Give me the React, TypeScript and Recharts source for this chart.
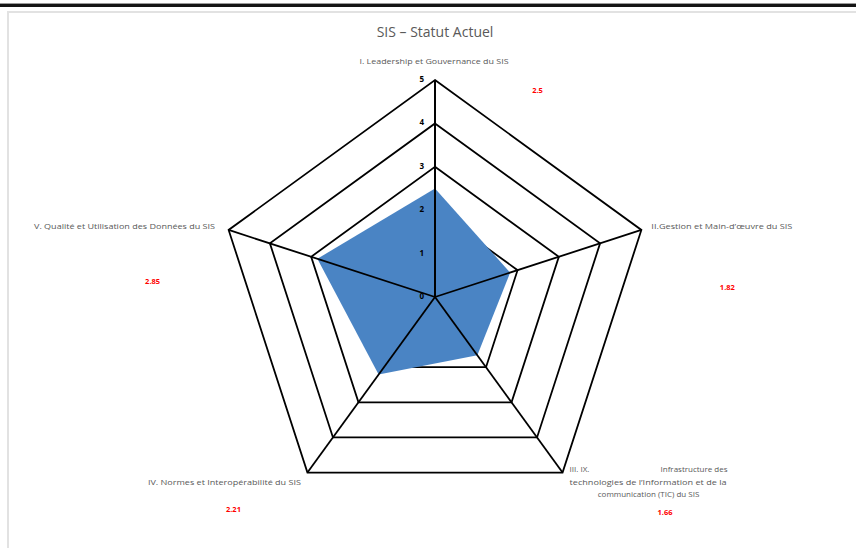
import React from 'react';
import { RadarChart, Radar, PolarGrid, PolarAngleAxis, PolarRadiusAxis } from 'recharts';

// Domain names, in clockwise order starting at the top
const categories = [
  'I. Leadership et Gouvernance du SIS',
  'II.Gestion et Main-d\u2019œuvre du SIS',
  'III. IX. Infrastructure des technologies de l\u2019Information et de la communication (TIC) du SIS',
  'IV. Normes et Interopérabilité du SIS',
  'V. Qualité et Utilisation des Données du SIS',
];

// Current score per domain
const statutActuel = [2.5, 1.82, 1.66, 2.21, 2.85];

// Radial scale
const radiusTicks = [0, 1, 2, 3, 4, 5];

// Wrapped label lines; a tab splits a line into left and right parts
const labelLines: string[][] = [
  ['I. Leadership et Gouvernance du SIS'],
  ['II.Gestion et Main-d\u2019œuvre du SIS'],
  ['III. IX.\tInfrastructure des', 'technologies de l\u2019Information et de la', 'communication (TIC) du SIS'],
  ['IV. Normes et Interopérabilité du SIS'],
  ['V. Qualité et Utilisation des Données du SIS'],
];

const chartTitle = 'SIS \u2013 Statut Actuel';

const data = categories.map((axe, i) => ({ axe, value: statutActuel[i] }));

const W = 856;
const H = 548;
const CX = 435;
const CY = 297;
const R = 217;
const RAD = Math.PI / 180;

const TEXT_GREY = '#595959';
const FONT = '"Open Sans", "Liberation Sans", sans-serif';
const GRID_W = 1.8;

// Placement of each axis label and value note, relative to the outer vertex
const LABEL_LAYOUT = [
  { anchor: 'middle', dx: -1, dys: [-19.5], width: 149, valDx: 102.5, valDy: 10 },
  { anchor: 'start', dx: 10, dys: [-4], width: 141, valDx: 86, valDy: 57 },
  { anchor: 'start', dx: 7, dys: [-4, 9.2, 20.8], width: 158, valDx: 102.5, valDy: 39 },
  { anchor: 'end', dx: -6.5, dys: [9], width: 153, valDx: -74, valDy: 36 },
  { anchor: 'end', dx: -13.6, dys: [-4], width: 181, valDx: -76, valDy: 51 },
];

function Label(props: any) {
  const { children, ...rest } = props;
  return (
    <text
      dominantBaseline="central"
      fontFamily={FONT}
      fontSize={8}
      fill={TEXT_GREY}
      stroke="none"
      {...rest}
    >
      {children}
    </text>
  );
}

// Angle-axis tick: the spoke from the centre, the domain label and its score note
function AngleTick(props: any) {
  const { payload } = props;
  const i = categories.indexOf(payload.value);
  if (i < 0) return null;
  const angle = payload.coordinate as number;
  const vx = CX + R * Math.cos(angle * RAD);
  const vy = CY - R * Math.sin(angle * RAD);
  const lay = LABEL_LAYOUT[i];
  const lines = labelLines[i];
  const x0 = vx + lay.dx;

  return (
    <g>
      <line x1={CX} y1={CY} x2={vx} y2={vy} stroke="#000" strokeWidth={GRID_W} />
      {lines.map((line, li) => {
        const y = vy + lay.dys[li];
        if (line.includes('\t')) {
          const [left, right] = line.split('\t');
          return (
            <g key={li}>
              <Label x={x0} y={y} textAnchor="start">{left}</Label>
              <Label x={x0 + lay.width} y={y} textAnchor="end">{right}</Label>
            </g>
          );
        }
        if (lines.length > 1) {
          const isFull = li === 1;
          return (
            <Label
              key={li}
              x={isFull ? x0 : x0 + lay.width / 2}
              y={y}
              textAnchor={isFull ? 'start' : 'middle'}
              textLength={isFull ? lay.width - 1 : undefined}
              lengthAdjust="spacingAndGlyphs"
            >
              {line}
            </Label>
          );
        }
        return (
          <Label
            key={li}
            x={x0}
            y={y}
            textAnchor={lay.anchor}
            textLength={lay.width}
            lengthAdjust="spacingAndGlyphs"
          >
            {line}
          </Label>
        );
      })}
      <text
        x={vx + lay.valDx}
        y={vy + lay.valDy}
        textAnchor="middle"
        dominantBaseline="central"
        fontFamily={FONT}
        fontSize={7.5}
        fontWeight={700}
        fill="#FF0000"
        stroke="none"
      >
        {statutActuel[i]}
      </text>
    </g>
  );
}

function RadiusTick(props: any) {
  const { x, y, payload } = props;
  return (
    <text
      x={x - 11}
      y={y - 1.5}
      textAnchor="end"
      dominantBaseline="central"
      fontFamily={FONT}
      fontSize={8}
      fontWeight={700}
      fill="#000"
      stroke="none"
    >
      {payload.value}
    </text>
  );
}

export default function App() {
  return (
    <div style={{ position: 'absolute', left: 0, top: 0, width: W, height: H, background: '#fff', overflow: 'hidden' }}>
      {/* page frame */}
      <div style={{ position: 'absolute', left: 0, top: 4, width: W, height: 3, background: '#151515' }} />
      <div style={{ position: 'absolute', left: 0, top: 3, width: W, height: 1, background: '#9a9a9a' }} />
      <div style={{ position: 'absolute', left: 7, top: 11, width: W - 7, height: 2, background: '#e2e2e2' }} />
      <div style={{ position: 'absolute', left: 7, top: 11, width: 2, height: H - 11, background: '#e2e2e2' }} />

      <div
        style={{
          position: 'absolute',
          left: 0,
          top: 22,
          width: 870,
          textAlign: 'center',
          fontFamily: FONT,
          fontSize: 14,
          lineHeight: '20px',
          color: TEXT_GREY,
        }}
      >
        {chartTitle}
      </div>

      <div style={{ position: 'absolute', left: 0, top: 0 }}>
        <RadarChart
          width={W}
          height={H}
          data={data}
          cx={CX}
          cy={CY}
          outerRadius={R}
          margin={{ top: 0, right: 0, bottom: 0, left: 0 }}
        >
          <PolarGrid gridType="polygon" radialLines={false} stroke="#000" strokeWidth={GRID_W} strokeOpacity={1} />
          <Radar
            dataKey="value"
            fill="#4A84C4"
            fillOpacity={1}
            stroke="none"
            dot={false}
            isAnimationActive={false}
          />
          <PolarAngleAxis
            dataKey="axe"
            tick={<AngleTick />}
            tickLine={false}
            axisLine={false}
          />
          <PolarRadiusAxis
            angle={90}
            domain={[0, 5]}
            ticks={radiusTicks as any}
            tickCount={6}
            tick={<RadiusTick />}
            axisLine={{ stroke: '#000', strokeWidth: GRID_W }}
            tickLine={false}
          />
        </RadarChart>
      </div>
    </div>
  );
}
